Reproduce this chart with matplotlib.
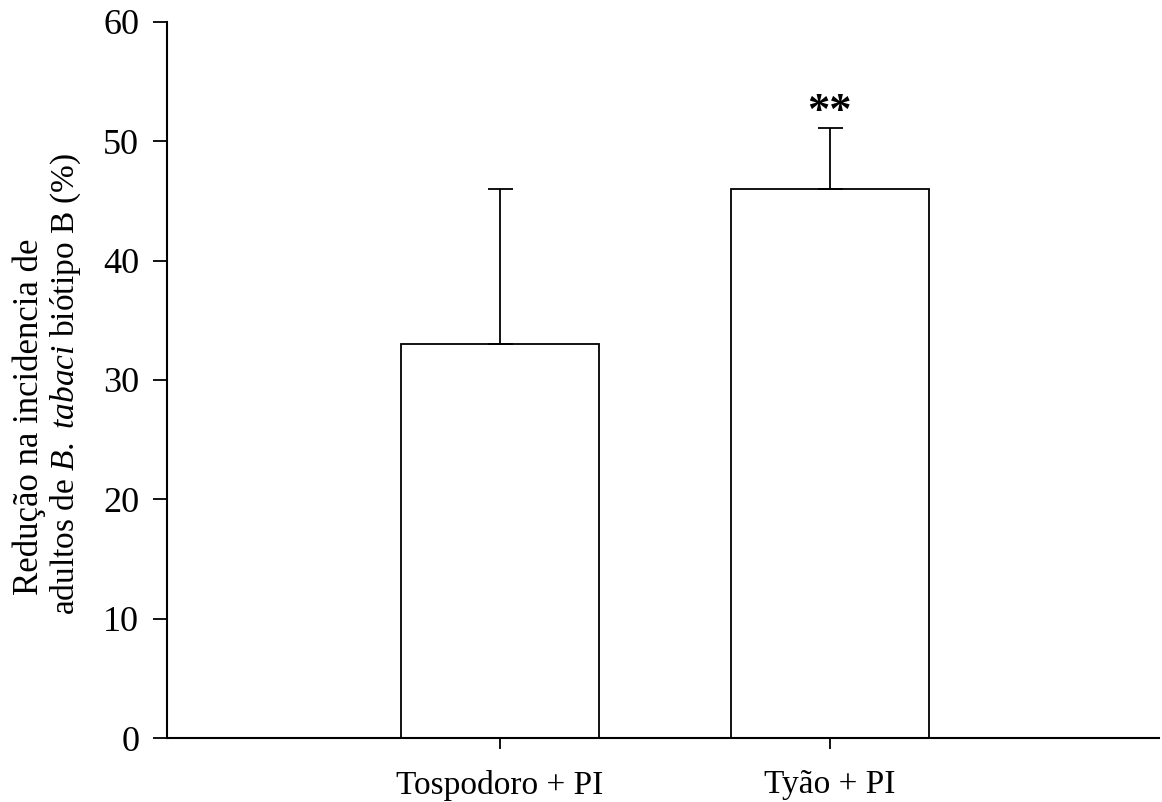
import matplotlib
matplotlib.use("Agg")
import matplotlib.pyplot as plt

plt.rcParams['font.family'] = ['Liberation Serif', 'DejaVu Serif']
plt.rcParams['mathtext.fontset'] = 'custom'
plt.rcParams['mathtext.rm'] = 'Liberation Serif'
plt.rcParams['mathtext.it'] = 'Liberation Serif:italic'

tratamentos = ['Tospodoro + PI', 'Tyão + PI']
reducao = [33.0, 46.0]
erro = [13.0, 5.1]
signif = ['', '**']

fig = plt.figure(figsize=(11.62, 8.02), dpi=100)
ax = fig.add_axes([0.1437, 0.0798, 0.854, 0.8928])

x = list(range(len(tratamentos)))
ax.bar(x, reducao, width=0.6, color='white', edgecolor='black', linewidth=1.3,
       yerr=[[0] * len(erro), erro], capsize=9,
       error_kw=dict(ecolor='black', elinewidth=1.3, capthick=1.3))
for xi, v, e, s in zip(x, reducao, erro, signif):
    if s:
        ax.text(xi, v + e - 0.35, s, ha='center', va='bottom', fontsize=32,
                fontweight='bold')

ax.set_xlim(-1.01, 2.0)
ax.set_ylim(0, 60)
ax.set_yticks(range(0, 61, 10))
ax.set_xticks(x)
ax.set_xticklabels(tratamentos, fontsize=24)
ax.tick_params(axis='both', direction='out', width=1.3)
ax.tick_params(axis='y', length=10, pad=10, labelsize=26)
ax.tick_params(axis='x', length=8, pad=15)
ax.spines['top'].set_visible(False)
ax.spines['right'].set_visible(False)
for sp in ['left', 'bottom']:
    ax.spines[sp].set_linewidth(1.5)

# rótulo do eixo y em duas linhas
fig.text(29 / 1162, 1 - 417 / 802, 'Redução na incidencia de',
         rotation=90, ha='center', va='center', fontsize=25)
fig.text(66 / 1162, 1 - 384 / 802, r'adultos de $B.$ $tabaci$ biótipo B (%)',
         rotation=90, ha='center', va='center', fontsize=24)

fig.savefig('out.png', dpi=100)
